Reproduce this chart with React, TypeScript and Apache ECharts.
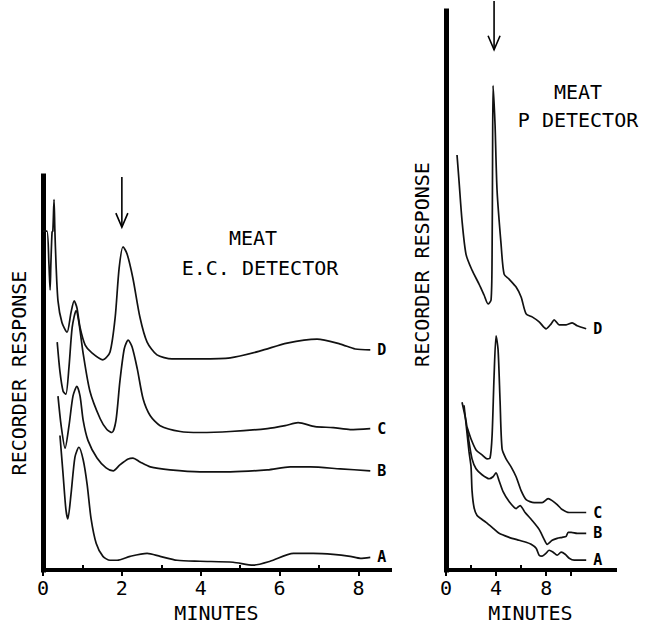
import React, { useEffect, useRef } from "react";
import * as echarts from "echarts";

// ---------- Left panel: MEAT, E.C. detector (x in minutes, y in arbitrary recorder units) ----------
const EC_X_MAX = 8.8;
const EC_Y_MAX = 401;
const EC_LABEL_TICKS = [0, 2, 4, 6, 8];
const EC_MINOR_TICKS = [1, 3, 5, 7];
const EC_D = [[0,345],[0.1,345],[0.15,312],[0.18,285],[0.2,312],[0.23,344],[0.25,345],[0.28,377],[0.3,347],[0.33,312],[0.38,274],[0.48,252],[0.61,242],[0.71,262],[0.79,274],[0.86,267],[0.94,247],[1.07,229],[1.24,221],[1.52,214],[1.7,222],[1.83,257],[1.93,307],[2.03,329],[2.13,322],[2.28,297],[2.46,257],[2.64,232],[2.89,219],[3.27,215],[3.98,215],[4.75,216],[5.51,223],[6.19,231],[6.95,235],[7.54,230],[7.92,225],[8.3,224]];
const EC_C = [[0.36,232],[0.43,202],[0.51,182],[0.58,179],[0.66,207],[0.74,247],[0.84,264],[0.91,252],[1.02,220],[1.19,182],[1.45,154],[1.62,143],[1.75,140],[1.85,152],[1.95,192],[2.06,225],[2.16,234],[2.26,227],[2.39,205],[2.54,174],[2.72,157],[2.97,147],[3.48,141],[3.98,140],[4.75,141],[5.69,144],[6.14,147],[6.47,150],[6.9,146],[7.36,145],[7.79,143],[8.3,144]];
const EC_B = [[0.38,177],[0.46,147],[0.56,124],[0.66,147],[0.76,177],[0.86,187],[0.94,177],[1.02,152],[1.14,132],[1.37,114],[1.6,104],[1.78,101],[1.95,107],[2.16,113],[2.28,114],[2.46,110],[2.72,105],[3.22,102],[3.98,100],[4.75,100],[5.69,102],[6.27,105],[6.78,105],[7.54,103],[8.3,101]];
const EC_A = [[0.43,137],[0.51,97],[0.58,62],[0.63,52],[0.71,77],[0.81,115],[0.91,125],[1.02,112],[1.12,87],[1.22,52],[1.35,27],[1.52,14],[1.7,10],[1.88,10],[2.21,14],[2.64,17],[2.97,14],[3.4,10],[3.98,9],[4.82,8],[5.33,5],[5.76,9],[6.35,17],[6.85,17],[7.36,16],[7.79,14],[8.05,12],[8.3,13]];
const EC_ARROW = { t: 2, from: 400, to: 349 };

// ---------- Right panel: MEAT, P detector ----------
const P_X_MAX = 13.5;
const P_Y_MAX = 563;
const P_LABEL_TICKS = [0, 4, 8];
const P_LOWER_TICKS = [0, 4, 8, 10];
const P_UPPER_TICKS = [2, 6];
const P_D = [[0.88,418],[1.04,392],[1.28,352],[1.6,318],[2.08,302],[2.64,288],[3.04,277],[3.36,268],[3.6,272],[3.68,315],[3.72,415],[3.76,488],[3.84,470],[3.92,448],[4.08,382],[4.4,328],[4.64,298],[5.04,293],[5.6,285],[6.0,275],[6.4,258],[6.88,255],[7.44,250],[8.0,243],[8.4,248],[8.64,252],[9.04,247],[9.6,247],[10.08,249],[10.48,246],[11.2,243]];
const P_C = [[1.68,144],[2.0,132],[2.4,121],[2.88,116],[3.28,112],[3.52,113],[3.68,135],[3.84,195],[4.0,236],[4.16,222],[4.32,170],[4.48,122],[4.8,112],[5.2,104],[5.6,94],[6.0,80],[6.4,71],[7.04,68],[7.68,68],[8.16,72],[8.48,70],[8.88,66],[9.28,61],[9.84,58],[10.48,58],[11.2,58]];
const P_B = [[1.28,169],[1.6,150],[1.84,129],[2.08,112],[2.4,102],[2.88,96],[3.44,92],[3.76,94],[4.0,98],[4.24,90],[4.56,79],[5.04,69],[5.6,62],[5.92,65],[6.32,58],[6.88,50],[7.44,41],[7.84,31],[8.08,26],[8.48,30],[8.88,32],[9.28,33],[9.6,34],[9.76,38],[10.0,38],[10.48,37],[11.2,37]];
const P_A = [[1.44,166],[1.68,138],[1.84,119],[2.0,104],[2.08,80],[2.24,63],[2.48,55],[2.88,51],[3.2,48],[3.68,43],[4.24,37],[5.04,33],[5.84,30],[6.4,28],[6.8,26],[7.2,22],[7.44,15],[7.68,14],[8.0,17],[8.24,20],[8.56,18],[8.88,15],[9.2,18],[9.52,16],[9.84,12],[10.24,10],[10.72,10],[11.2,10]];
const P_ARROW = { t: 3.84, from: 573, to: 524 };

const CURVE_NAMES = ["D", "C", "B", "A"];
const MONO = "DejaVu Sans Mono";
const INK = "#111";

function mainXAxis(gridIndex: number, max: number, ticks: number[], labels: number[]) {
  return {
    type: "value", gridIndex, min: 0, max, position: "bottom",
    axisLine: { show: true, onZero: false, lineStyle: { color: "#000", width: 4, cap: "square" } },
    axisTick: { show: true, inside: false, length: 6, customValues: ticks, lineStyle: { color: "#000", width: 2 } },
    axisLabel: { show: true, customValues: labels, margin: 8, fontFamily: MONO, fontSize: 20, color: "#000" },
    splitLine: { show: false },
    name: "MINUTES", nameLocation: "middle", nameGap: 30,
    nameTextStyle: { fontFamily: MONO, fontSize: 20, color: "#000", verticalAlign: "top" },
  };
}
function upperTickAxis(gridIndex: number, max: number, ticks: number[]) {
  return {
    type: "value", gridIndex, min: 0, max, position: "bottom",
    axisLine: { show: false, onZero: false },
    axisTick: { show: true, inside: true, length: 5, customValues: ticks, lineStyle: { color: "#000", width: 2 } },
    axisLabel: { show: false }, splitLine: { show: false },
  };
}
function yAx(gridIndex: number, max: number, pad: number[]) {
  return {
    type: "value", gridIndex, min: 0, max,
    axisLine: { show: true, lineStyle: { color: "#000", width: 5, cap: "square" } },
    axisTick: { show: false }, axisLabel: { show: false }, splitLine: { show: false },
    name: "RECORDER RESPONSE", nameLocation: "middle", nameGap: 14, nameRotate: 90,
    nameTextStyle: { fontFamily: MONO, fontSize: 20, color: "#000", padding: pad },
  };
}
function curve(name: string, label: string, data: number[][], xi: number, yi: number) {
  return {
    type: "line", name, data, xAxisIndex: xi, yAxisIndex: yi,
    showSymbol: false, symbol: "none", smooth: 0.25, clip: false,
    lineStyle: { color: INK, width: 1.7 },
    endLabel: { show: true, formatter: label, distance: 7, color: "#000", fontFamily: MONO, fontSize: 15, lineHeight: 15, fontWeight: "bold" },
    emphasis: { disabled: true },
  };
}

export default function App() {
  const ref = useRef<HTMLDivElement>(null);
  useEffect(() => {
    if (!ref.current) return;
    const chart = echarts.init(ref.current, null, { renderer: "svg" });
    const leftSets = [EC_D, EC_C, EC_B, EC_A];
    const rightSets = [P_D, P_C, P_B, P_A];
    const texts = [
      { id: "t1", type: "text", x: 253, y: 238, style: { text: "MEAT", fontFamily: MONO, fontSize: 20, fill: "#000", align: "center", verticalAlign: "middle" } },
      { id: "t2", type: "text", x: 260, y: 268, style: { text: "E.C. DETECTOR", fontFamily: MONO, fontSize: 20, fill: "#000", align: "center", verticalAlign: "middle" } },
      { id: "t3", type: "text", x: 578, y: 92, style: { text: "MEAT", fontFamily: MONO, fontSize: 20, fill: "#000", align: "center", verticalAlign: "middle" } },
      { id: "t4", type: "text", x: 578, y: 120, style: { text: "P DETECTOR", fontFamily: MONO, fontSize: 20, fill: "#000", align: "center", verticalAlign: "middle" } },
    ];
    chart.setOption({
      animation: false,
      backgroundColor: "#fff",
      grid: [
        { left: 43, top: 176, width: 347, height: 401 },
        { left: 446, top: 11, width: 169, height: 563 },
      ],
      xAxis: [
        mainXAxis(0, EC_X_MAX, EC_LABEL_TICKS, EC_LABEL_TICKS),
        upperTickAxis(0, EC_X_MAX, EC_MINOR_TICKS),
        mainXAxis(1, P_X_MAX, P_LOWER_TICKS, P_LABEL_TICKS),
        upperTickAxis(1, P_X_MAX, P_UPPER_TICKS),
      ],
      yAxis: [yAx(0, EC_Y_MAX, [0, 0, 0, 0]), yAx(1, P_Y_MAX, [0, 0, 0, 52])],
      series: [
        ...leftSets.map((d, i) => curve("E.C. " + CURVE_NAMES[i], CURVE_NAMES[i], d, 0, 0)),
        ...rightSets.map((d, i) => curve("P " + CURVE_NAMES[i], CURVE_NAMES[i], d, 2, 1)),
      ],
      graphic: texts,
    });
    const arrowEls: any[] = [];
    const addArrow = (id: string, xi: number, yi: number, a: { t: number; from: number; to: number }) => {
      const p1 = chart.convertToPixel({ xAxisIndex: xi, yAxisIndex: yi } as any, [a.t, a.from]) as number[];
      const p2 = chart.convertToPixel({ xAxisIndex: xi, yAxisIndex: yi } as any, [a.t, a.to]) as number[];
      arrowEls.push({ id: id + "s", type: "line", shape: { x1: p1[0], y1: p1[1], x2: p2[0], y2: p2[1] }, style: { stroke: "#000", lineWidth: 1.6 } });
      arrowEls.push({ id: id + "h", type: "polyline", shape: { points: [[p2[0] - 6, p2[1] - 14], [p2[0], p2[1]], [p2[0] + 6, p2[1] - 14]] }, style: { stroke: "#000", lineWidth: 1.6, fill: "none" } });
    };
    addArrow("aL", 0, 0, EC_ARROW);
    addArrow("aR", 2, 1, P_ARROW);
    chart.setOption({ graphic: [...texts, ...arrowEls] });
    return () => chart.dispose();
  }, []);
  return <div ref={ref} style={{ position: "absolute", left: 0, top: 0, width: 645, height: 628 }} />;
}
